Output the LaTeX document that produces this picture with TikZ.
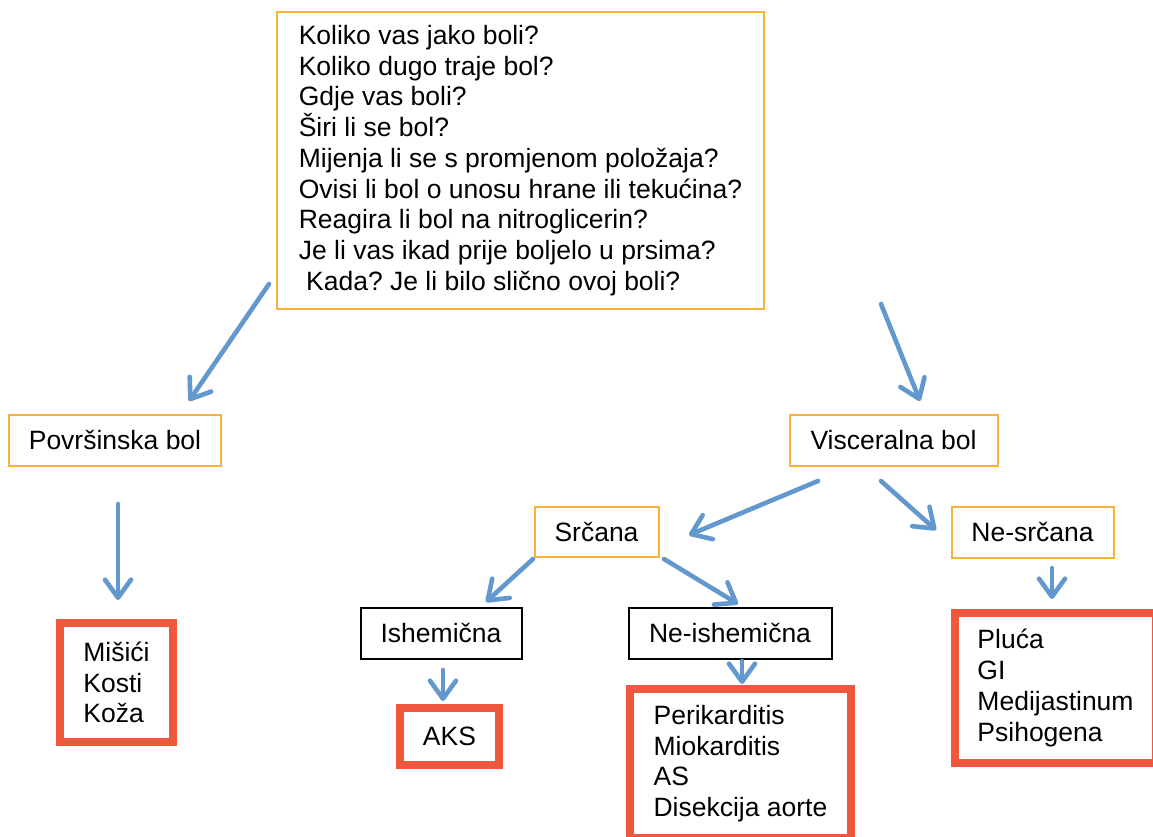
\documentclass[tikz,border=0pt]{standalone}
\usepackage{fontspec}
\setmainfont{Liberation Sans}
\frenchspacing
\usetikzlibrary{arrows.meta,calc}
\definecolor{arrowblue}{RGB}{99,152,206}
\definecolor{boxorange}{RGB}{248,179,56}
\definecolor{boxred}{RGB}{239,88,63}
\tikzset{
  box/.style={draw, line width=2pt, inner sep=0pt, align=left,
    font=\fontsize{26.5}{30.7}\selectfont},
  obox/.style={box, draw=boxorange},
  kbox/.style={box, draw=black},
  rbox/.style={box, draw=boxred, line width=8pt},
  conn/.style={draw=arrowblue, line width=4.6pt, line cap=round,
    -{Straight Barb[length=18pt,width=26pt,round]}},
}
\begin{document}
\begin{tikzpicture}[x=1pt,y=-1pt]
\path[use as bounding box] (0,0) rectangle (1153,837);
\clip (0,0) rectangle (1153,837);
\fill[white] (0,0) rectangle (1153,837);

\node[obox, minimum width=487pt, minimum height=297pt] (top) at (520.5,160.5)
  {Koliko vas jako boli?\\Koliko dugo traje bol?\\Gdje vas boli?\\Širi li se bol?\\Mijenja li se s promjenom položaja?\\Ovisi li bol o unosu hrane ili tekućina?\\Reagira li bol na nitroglicerin?\\Je li vas ikad prije boljelo u prsima?\\\ Kada? Je li bilo slično ovoj boli?};

\node[obox, minimum width=212pt, minimum height=51pt] (pov) at (115,440) {Površinska bol};
\node[obox, minimum width=208pt, minimum height=51pt] (visc) at (893.5,440) {Visceralna bol};
\node[obox, minimum width=124pt, minimum height=50pt] (src) at (596.5,531.5) {Srčana};
\node[obox, minimum width=162pt, minimum height=51pt] (nesrc) at (1032.5,532) {Ne-srčana};
\node[kbox, minimum width=161pt, minimum height=51pt] (ish) at (441,633) {Ishemična};
\node[kbox, minimum width=203pt, minimum height=51pt] (neish) at (730,633) {Ne-ishemična};

\node[rbox, minimum width=113pt, minimum height=119pt] (mis) at (116.5,682.5) {Mišići\\Kosti\\Koža};
\node[rbox, minimum width=99pt, minimum height=57pt] (aks) at (449.5,736.5) {AKS};
\node[rbox, minimum width=221pt, minimum height=149pt] (peri) at (740.5,763.5) {Perikarditis\\Miokarditis\\AS\\Disekcija aorte};
\node[rbox, minimum width=201pt, minimum height=150pt] (pl) at (1055.5,688) {Pluća\\GI\\Medijastinum\\Psihogena};

\draw[conn] ($(top.south west)+(-7,-26)$) -- ($(pov.north)+(74,-12.5)$);
\draw[conn] ($(top.south east)+(116,-6)$) -- ($(visc.north)+(26.5,-12.5)$);
\draw[conn] ($(pov.south)+(3,37.5)$) -- ($(mis.north)+(1.5,-19)$);
\draw[conn] ($(visc.south)+(-75.5,14.5)$) -- ($(src.east)+(29.5,3.5)$);
\draw[conn] ($(visc.south)+(-12.5,14.5)$) -- ($(nesrc.west)+(-14.5,-2)$);
\draw[conn] ($(src.south west)+(-0.5,1.5)$) -- ($(ish.north)+(45,-4.5)$);
\draw[conn] ($(src.south east)+(4.5,1.5)$) -- ($(neish.north)+(8,-2.5)$);
\draw[conn] ($(ish.south)+(2,10.5)$) -- ($(aks.north)+(-6.5,-3)$);
\draw[conn] ($(neish.south)+(12,1.5)$) -- ($(peri.north)+(1.5,-1)$);
\draw[conn] ($(nesrc.south)+(19.5,9.5)$) -- ($(pl.north)+(-3.5,-10)$);
\end{tikzpicture}
\end{document}
